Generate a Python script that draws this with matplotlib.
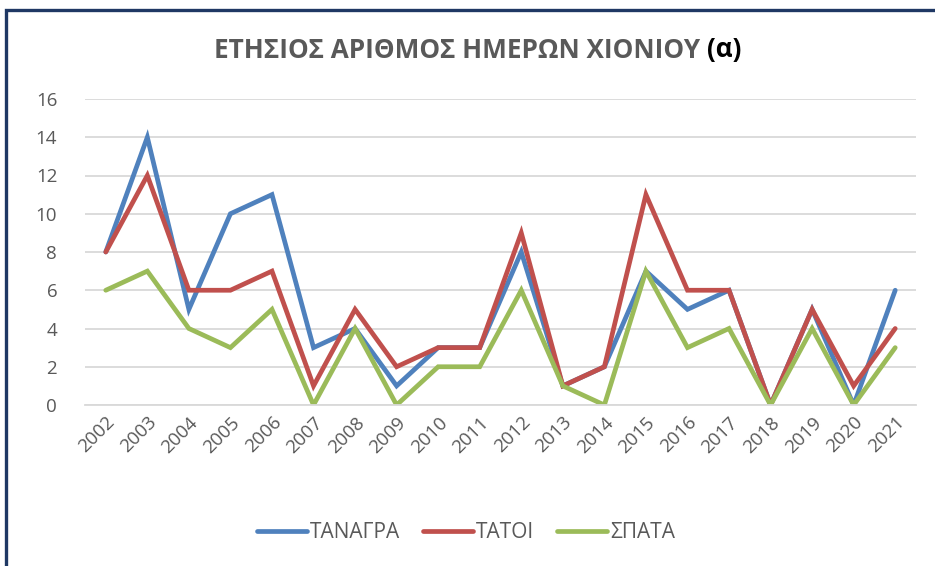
import matplotlib.pyplot as plt
from matplotlib.patches import Rectangle

years = [str(y) for y in range(2002, 2022)]
tanagra = [8, 14, 5, 10, 11, 3, 4, 1, 3, 3, 8, 1, 2, 7, 5, 6, 0, 5, 0, 6]
tatoi = [8, 12, 6, 6, 7, 1, 5, 2, 3, 3, 9, 1, 2, 11, 6, 6, 0, 5, 1, 4]
spata = [6, 7, 4, 3, 5, 0, 4, 0, 2, 2, 6, 1, 0, 7, 3, 4, 0, 4, 0, 3]

series = [("ΤΑΝΑΓΡΑ", tanagra, "#4F81BD"),
          ("ΤΑΤΟΙ", tatoi, "#C0504D"),
          ("ΣΠΑΤΑ", spata, "#9BBB59")]

plt.rcParams['font.family'] = ['Open Sans', 'DejaVu Sans']
grey = "#595959"

fig = plt.figure(figsize=(9.35, 5.66), dpi=100)
ax = fig.add_axes([85 / 935, 161 / 566, 831 / 935, 306 / 566])

x = list(range(len(years)))
for name, vals, col in series:
    ax.plot(x, vals, color=col, lw=3.4, label=name, solid_capstyle='round',
            solid_joinstyle='miter')

ax.set_xlim(-0.5, len(years) - 0.5)
ax.set_ylim(0, 16)
ax.set_yticks(range(0, 17, 2))
ax.set_xticks(x)
ax.set_xticklabels(years, rotation=45, ha='right', rotation_mode='anchor')
ax.tick_params(axis='both', length=0, labelsize=13.5, colors=grey, pad=6)
ax.tick_params(axis='y', pad=20)
ax.grid(axis='y', color='#D9D9D9', lw=1.3)
ax.set_axisbelow(True)
for s in ['top', 'right', 'left']:
    ax.spines[s].set_visible(False)
ax.spines['bottom'].set_color('#D9D9D9')
ax.spines['bottom'].set_linewidth(1.3)

leg = fig.legend(loc='center', bbox_to_anchor=(466 / 935, 33 / 566), ncol=3,
                 frameon=False, fontsize=15, handlelength=2.4,
                 handletextpad=0.15, columnspacing=1.1)
for t in leg.get_texts():
    t.set_color(grey)

# title: grey text plus black "(α)"
t1 = fig.text(0.5, 1 - 50 / 566, "ΕΤΗΣΙΟΣ ΑΡΙΘΜΟΣ ΗΜΕΡΩΝ ΧΙΟΝΙΟΥ ", fontsize=18.8,
              fontweight='bold', color=grey, ha='left', va='center')
t2 = fig.text(0.5, 1 - 50 / 566, "(α)", fontsize=18.8, fontweight='bold',
              color='black', ha='left', va='center')
fig.canvas.draw()
r = fig.canvas.get_renderer()
w1 = t1.get_window_extent(r).width
w2 = t2.get_window_extent(r).width
x0 = (478 - (w1 + w2) / 2) / 935
t1.set_x(x0)
t2.set_x(x0 + w1 / 935)

# dark blue frame (cropped on the right and bottom)
fig.patches.append(Rectangle((6 / 935, -0.1), 1.2, 1 - 10 / 566 + 0.1,
                             transform=fig.transFigure, fill=False,
                             edgecolor='#1F3864', lw=2.4))

fig.savefig("out.png", dpi=100)
